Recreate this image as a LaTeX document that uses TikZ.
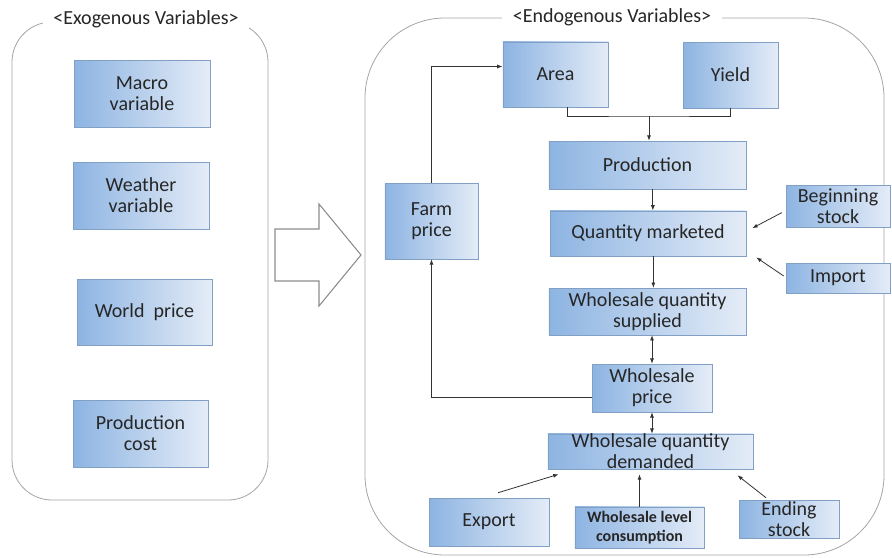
\documentclass[tikz,border=0pt]{standalone}
\usepackage{fontspec}
\setmainfont{Carlito}
\usetikzlibrary{arrows.meta}

\definecolor{boxdark}{RGB}{141,180,226}
\definecolor{boxlight}{RGB}{228,236,247}
\definecolor{boxline}{RGB}{130,160,196}
\definecolor{panelline}{RGB}{165,165,165}

\begin{document}
\begin{tikzpicture}[x=0.75pt,y=-0.75pt,
    varbox/.style={draw=boxline,left color=boxdark,right color=boxlight,
      align=center,inner sep=0pt,text=black!85,
      font=\fontsize{15}{15.75}\selectfont},
    panel/.style={draw=panelline,line width=0.6pt},
    paneltitle/.style={fill=white,inner xsep=8pt,inner ysep=2pt,text=black!85,
      font=\fontsize{15}{15.75}\selectfont},
    link/.style={draw=black!80,line width=0.6pt,-{Latex[length=4pt,width=3pt]}},
    twolink/.style={link,{Latex[length=4pt,width=3pt]}-{Latex[length=4pt,width=3pt]}}]
            \useasboundingbox (0,0) rectangle (892,557);

            % Draw the two panels
            \draw[panel,rounded corners=30pt] (12,22) rectangle (268,500);
            \draw[panel,rounded corners=60pt] (365,18) rectangle (884,555);
            \node[paneltitle] (exotitle) at (146,19) {<Exogenous Variables>};
            \node[paneltitle] (endotitle) at (612,17) {<Endogenous Variables>};

            % Exogenous variables
            \node[varbox,minimum width=102pt,minimum height=50pt] (macro) at (142,93.5) {Macro\\variable};
            \node[varbox,minimum width=102pt,minimum height=50pt] (weather) at (141,195.5) {Weather\\variable};
            \node[varbox,minimum width=101pt,minimum height=49.5pt] (world) at (144.5,312) {World\ \ price};
            \node[varbox,minimum width=101pt,minimum height=50pt] (cost) at (140.5,433.5) {Production\\cost};

            % Draw the big arrow
            \draw[draw=black!45,fill=white,line width=0.8pt] (275,229) -- (319,229) -- (319,204) -- (361,255)
                -- (319,306) -- (319,281) -- (275,281) -- cycle;

            % Endogenous variables
            \node[varbox,minimum width=79pt,minimum height=49pt] (area) at (555.5,74.5) {Area};
            \node[varbox,minimum width=71pt,minimum height=49.5pt] (yield) at (730.5,75) {Yield};
            \node[varbox,minimum width=148pt,minimum height=36pt] (production) at (647.5,165) {Production};
            \node[varbox,minimum width=147pt,minimum height=34pt] (marketed) at (648,233.5) {Quantity marketed};
            \node[varbox,minimum width=78pt,minimum height=31.5pt] (begin) at (838,206) {Beginning\\stock};
            \node[varbox,minimum width=78pt,minimum height=22.5pt] (import) at (838,278) {Import};
            \node[varbox,minimum width=70pt,minimum height=57pt] (farm) at (431.5,221) {Farm\\price};
            \node[varbox,minimum width=148pt,minimum height=35pt] (supplied) at (647.5,311.5) {Wholesale quantity\\supplied};
            \node[varbox,minimum width=90pt,minimum height=36pt] (wprice) at (652,388) {Wholesale\\price};
            \node[varbox,minimum width=154pt,minimum height=26pt] (demanded) at (650.5,451.5) {Wholesale quantity\\demanded};
            \node[varbox,minimum width=90pt,minimum height=36pt] (export) at (489,522) {Export};
            \node[varbox,minimum width=97pt,minimum height=31pt,font=\bfseries\fontsize{12}{14}\selectfont] (consumption) at (639.5,527.5) {Wholesale level\\consumption};
            \node[varbox,minimum width=75pt,minimum height=28.5pt] (ending) at (789,519) {Ending\\stock};

            % Draw the links
            \coordinate (join) at (649,116);
            \draw[draw=black!80,line width=0.6pt] ([xshift=9pt]area.south) |- (join) -| (yield.south);
            \draw[link] (join) -- (join |- production.north);
            \draw[link] ([xshift=4pt]production.south) -- ([xshift=4pt]production.south |- marketed.north);
            \draw[link] ([xshift=4pt]marketed.south) -- ([xshift=4pt]marketed.south |- supplied.north);
            \draw[twolink] (wprice.north |- supplied.south) -- (wprice.north);
            \draw[twolink] (wprice.south) -- (wprice.south |- demanded.north);
            \draw[link] ([xshift=-3pt,yshift=-5pt]begin.west) -- ([xshift=4.5pt,yshift=4pt]marketed.east);
            \draw[link] ([xshift=-1.5pt,yshift=1.5pt]import.west) -- ([xshift=7.5pt,yshift=-0.75pt]marketed.south east);
            \draw[link] (farm.north) |- ([yshift=6pt]area.west);
            \draw[link] ([yshift=-6.75pt]wprice.west) -| (farm.south);
            \draw[link] ([xshift=6.75pt,yshift=3.75pt]export.north) -- ([xshift=8.25pt,yshift=-3.75pt]demanded.south west);
            \draw[link] (consumption.north) -- ([yshift=-3.75pt]consumption.north |- demanded.south);
            \draw[link] ([xshift=-17.25pt,yshift=1.5pt]ending.north) -- ([xshift=-12pt,yshift=-4.5pt]demanded.south east);

        \end{tikzpicture}
\end{document}
